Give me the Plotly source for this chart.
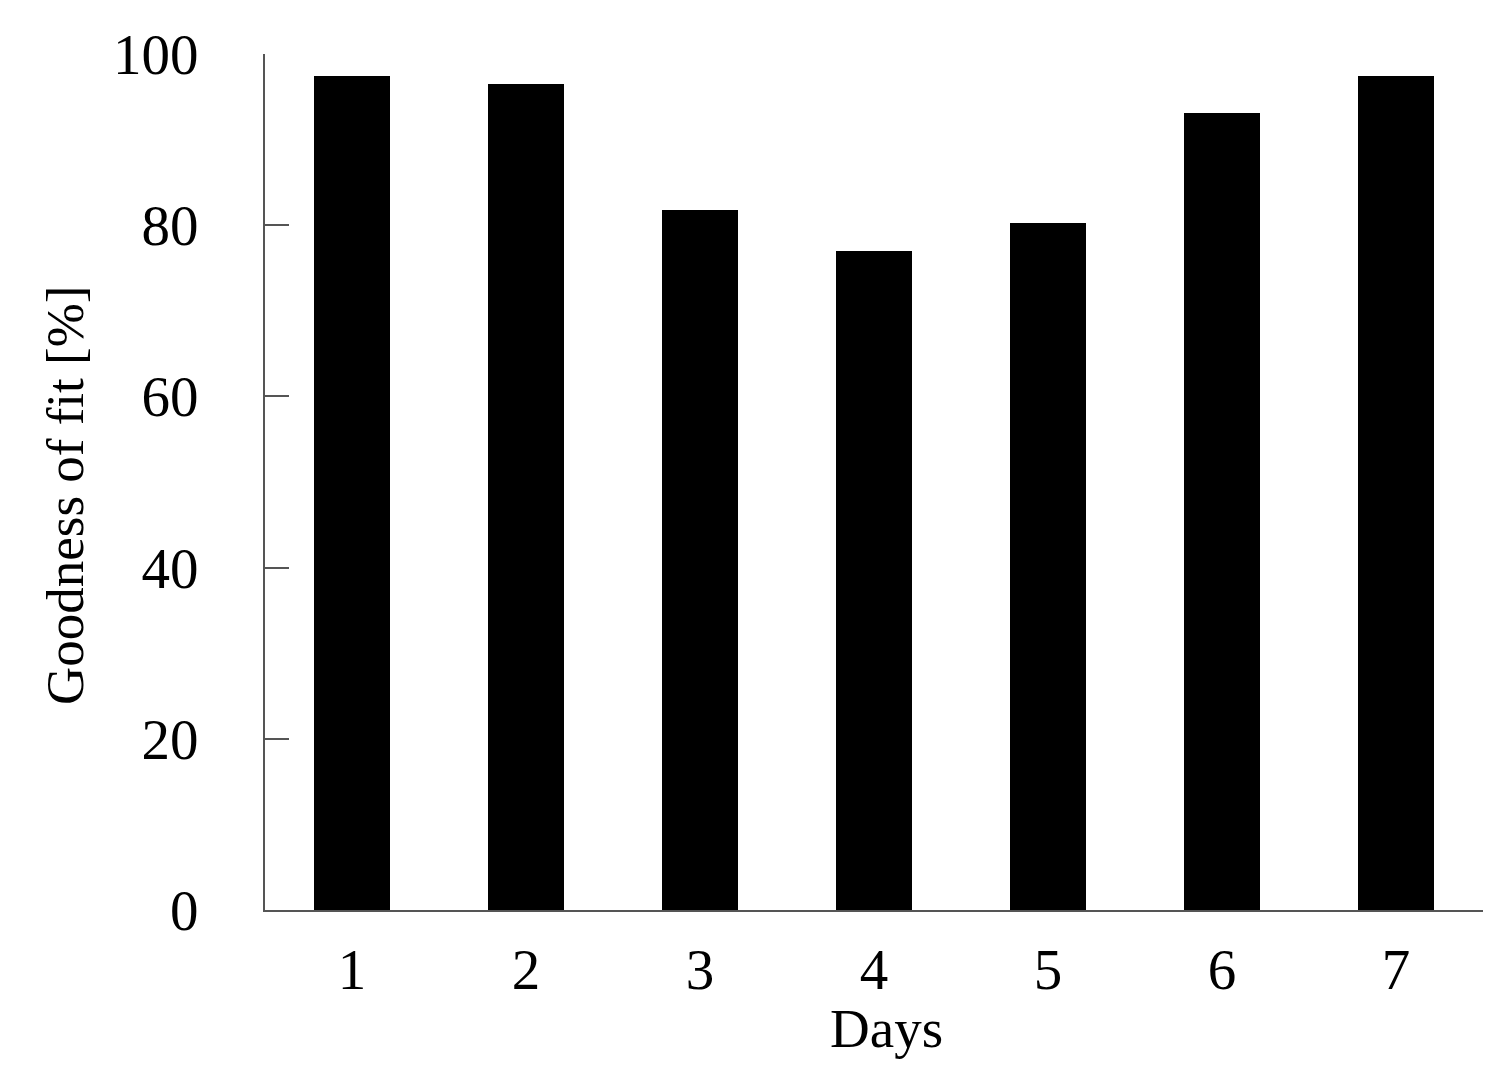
import plotly.graph_objects as go

# data
days = [1, 2, 3, 4, 5, 6, 7]
fit_pct = [97.4, 96.5, 81.8, 77.0, 80.2, 93.1, 97.4]
y_ticks = [0, 20, 40, 60, 80, 100]

# page has an 8px body margin, so the figure sits at (8, 8) in the window
off = 8
W, H = 1509 - 2 * off, 1081 - 2 * off
ml, mt = 265 - off, 54 - off
mr = W - (1483 - off)
mb = H - (910 - off)
pw, ph = W - ml - mr, H - mt - mb

fig = go.Figure()

fig.add_trace(
    go.Bar(x=days, y=fit_pct,
           width=0.44,
           marker_color='black',
           marker_line_width=0,
           showlegend=False)
)

axis_col = '#555555'
serif = 'Liberation Serif, Times New Roman, serif'

fig.update_xaxes(range=[0.5, 7.5],
                 tickvals=days,
                 ticks='',
                 showline=True, linecolor=axis_col, linewidth=2,
                 showgrid=False, zeroline=False,
                 ticklabelstandoff=9,
                 tickfont=dict(family=serif, size=57, color='black'))

fig.update_yaxes(range=[0, 100],
                 tickvals=y_ticks,
                 ticks='inside', ticklen=24, tickwidth=2, tickcolor=axis_col,
                 showline=True, linecolor=axis_col, linewidth=2,
                 showgrid=False, zeroline=False,
                 ticklabelstandoff=53,
                 tickfont=dict(family=serif, size=57, color='black'))

# axis titles as annotations so they sit where the reference has them
fig.add_annotation(text='Goodness of fit [%]', textangle=-90,
                   xref='paper', yref='paper',
                   x=(65 - 265) / pw, y=(910 - 495) / ph,
                   xanchor='center', yanchor='middle', showarrow=False,
                   font=dict(family=serif, size=53, color='black'))
fig.add_annotation(text='Days',
                   xref='paper', yref='paper',
                   x=(886 - 265) / pw, y=(910 - 1028) / ph,
                   xanchor='center', yanchor='middle', showarrow=False,
                   font=dict(family=serif, size=55, color='black'))

fig.update_layout(width=W, height=H,
                  margin=dict(l=ml, r=mr, t=mt, b=mb, autoexpand=False),
                  plot_bgcolor='white', paper_bgcolor='white',
                  bargap=0)

fig.write_html("out.html")
